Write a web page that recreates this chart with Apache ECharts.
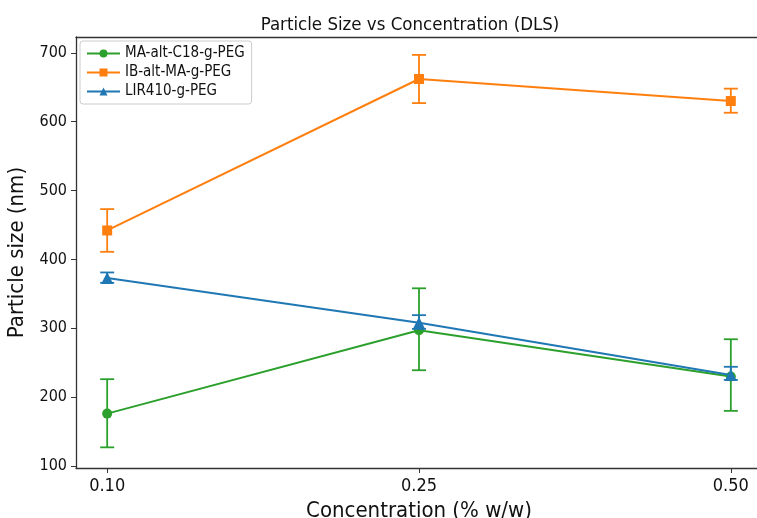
<!DOCTYPE html>
<html>
<head>
<meta charset="utf-8">
<script src="https://cdn.jsdelivr.net/npm/echarts@6/dist/echarts.min.js"></script>
<style>html,body{margin:0;padding:0;background:#fff}#c{width:757px;height:518px}</style>
</head>
<body>
<div id="c"></div>
<script>
var categories = ['0.10', '0.25', '0.50'];
var yTicks = [100, 200, 300, 400, 500, 600, 700];

var seriesNames = ['MA-alt-C18-g-PEG', 'IB-alt-MA-g-PEG', 'LIR410-g-PEG'];
var maValues = [176, 297, 230];
var maLower = [127, 239, 180];
var maUpper = [226, 358, 284];
var ibValues = [442, 662, 630];
var ibLower = [411, 627, 613];
var ibUpper = [473, 697, 648];
var lirValues = [373, 308, 232];
var lirLower = [366, 299, 225];
var lirUpper = [381, 319, 244];

var colors = ['#2ca02c', '#ff7f0e', '#1f77b4'];
var symbols = ['circle', 'rect', 'triangle'];
var FONT = "'DejaVu Sans Condensed', 'DejaVu Sans'";

function pts(vals) { return vals.map(function (v, i) { return [i, v]; }); }
function errData(lo, hi) { return lo.map(function (l, i) { return [i, l, hi[i]]; }); }

function errSeries(lo, hi, color, z) {
  return {
    type: 'custom',
    z: z,
    silent: true,
    data: errData(lo, hi),
    renderItem: function (params, api) {
      var x = api.value(0);
      var a = api.coord([x, api.value(1)]);
      var b = api.coord([x, api.value(2)]);
      var w = 7;
      var st = { stroke: color, lineWidth: 1.8 };
      return {
        type: 'group',
        children: [
          { type: 'line', shape: { x1: a[0], y1: a[1], x2: b[0], y2: b[1] }, style: st },
          { type: 'line', shape: { x1: a[0] - w, y1: a[1], x2: a[0] + w, y2: a[1] }, style: st },
          { type: 'line', shape: { x1: b[0] - w, y1: b[1], x2: b[0] + w, y2: b[1] }, style: st }
        ]
      };
    }
  };
}

function lineSeries(name, vals, color, sym, z) {
  return {
    name: name,
    type: 'line',
    z: z,
    data: pts(vals),
    symbol: sym,
    symbolSize: sym === 'triangle' ? 12 : 10,
    showAllSymbol: true,
    lineStyle: { color: color, width: 2 },
    itemStyle: { color: color, borderWidth: 0 },
    emphasis: { disabled: true },
    animation: false
  };
}

var chart = echarts.init(document.getElementById('c'));
chart.setOption({
  animation: false,
  backgroundColor: '#fff',
  title: {
    text: 'Particle Size vs Concentration (DLS)',
    left: 405, top: 11, textAlign: 'center',
    textStyle: { fontFamily: FONT, fontSize: 18.5, fontWeight: 'normal', color: '#111' }
  },
  legend: {
    data: seriesNames,
    left: 80, top: 41,
    orient: 'vertical',
    itemGap: 4,
    itemWidth: 33, itemHeight: 10,
    padding: [5, 7, 5, 6],
    borderColor: '#cccccc', borderWidth: 1, borderRadius: 3,
    backgroundColor: '#fff',
    textStyle: { fontFamily: FONT, fontSize: 15, color: '#111' }
  },
  grid: {
    left: 76, top: 37, width: 686, height: 431,
    outerBoundsMode: 'none',
    show: false
  },
  xAxis: [{
    type: 'value', min: -0.1, max: 2.1,
    name: 'Concentration (% w/w)', nameLocation: 'middle', nameGap: 31,
    nameTextStyle: { fontFamily: FONT, fontSize: 22, color: '#111' },
    splitLine: { show: false },
    axisLine: { show: true, onZero: false, lineStyle: { color: '#333', width: 1.3 } },
    axisTick: { show: true, customValues: [0, 1, 2], length: 5, lineStyle: { color: '#333' } },
    axisLabel: {
      customValues: [0, 1, 2],
      formatter: function (v) { return categories[Math.round(v)]; },
      fontFamily: FONT, fontSize: 18, color: '#111', margin: 9
    }
  }, {
    type: 'value', min: -0.1, max: 2.1, position: 'top',
    splitLine: { show: false },
    axisLine: { show: true, onZero: false, lineStyle: { color: '#333', width: 1.3 } },
    axisTick: { show: false },
    axisLabel: { show: false }
  }],
  yAxis: {
    type: 'value', min: 97, max: 723,
    name: 'Particle size (nm)', nameLocation: 'middle', nameGap: 44,
    nameTextStyle: { fontFamily: FONT, fontSize: 22, color: '#111' },
    splitLine: { show: false },
    axisLine: { show: true, onZero: false, lineStyle: { color: '#333', width: 1.3 } },
    axisTick: { show: true, customValues: yTicks, length: 5, lineStyle: { color: '#333' } },
    axisLabel: {
      customValues: yTicks,
      fontFamily: FONT, fontSize: 16, color: '#111', margin: 9
    }
  },
  series: [
    errSeries(maLower, maUpper, colors[0], 2),
    lineSeries(seriesNames[0], maValues, colors[0], symbols[0], 3),
    errSeries(ibLower, ibUpper, colors[1], 4),
    lineSeries(seriesNames[1], ibValues, colors[1], symbols[1], 5),
    errSeries(lirLower, lirUpper, colors[2], 6),
    lineSeries(seriesNames[2], lirValues, colors[2], symbols[2], 7)
  ]
});
</script>
</body>
</html>
